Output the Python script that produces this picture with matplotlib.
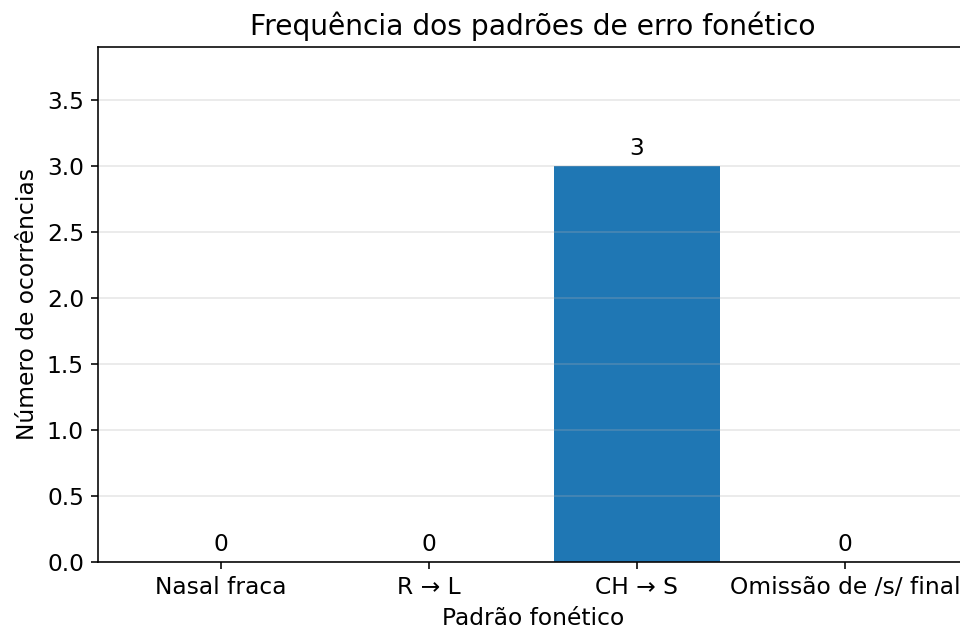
import matplotlib
matplotlib.use('Agg')

import matplotlib.pyplot as plt

# Dados do gráfico
padroes = ['Nasal fraca', 'R → L', 'CH → S', 'Omissão de /s/ final']
ocorrencias = [0, 0, 3, 0]

plt.rcParams['font.size'] = 11.7

fig = plt.figure(figsize=(960 / 144, 629 / 144), dpi=144)
# o eixo passa um pouco da borda direita, como na imagem original
ax = fig.add_axes([0.102, 0.1065, 0.906, 0.8188])

barras = ax.bar(padroes, ocorrencias, color='#1f77b4')
ax.bar_label(barras, padding=3)

ax.set_ylim(0, max(ocorrencias) * 1.3)
ax.set_title('Frequência dos padrões de erro fonético')
ax.set_xlabel('Padrão fonético')
ax.set_ylabel('Número de ocorrências')
ax.grid(True, axis='y', alpha=0.3)

fig.savefig('out.png', dpi=144)
